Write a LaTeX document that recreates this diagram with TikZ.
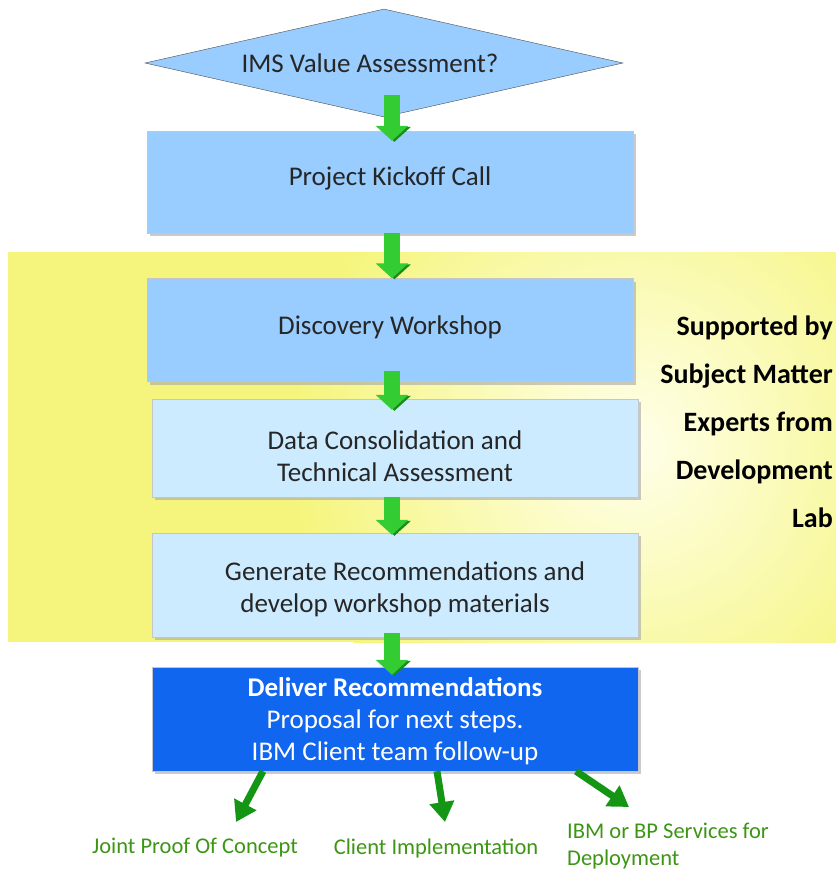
\documentclass[tikz,border=0pt]{standalone}
\usepackage{fontspec}
\setmainfont{Carlito}
\usepackage{xcolor}
\usetikzlibrary{positioning, arrows.meta, calc, shapes.geometric, shadows}

\definecolor{diamondblue}{RGB}{153,204,255}
\definecolor{paleblue}{RGB}{204,235,255}
\definecolor{deepblue}{RGB}{17,102,240}
\definecolor{arrgreen}{RGB}{51,204,51}
\definecolor{arrdark}{RGB}{25,140,25}
\definecolor{outgreen}{RGB}{20,150,20}
\definecolor{labgreen}{RGB}{60,150,20}
\definecolor{bgyellow}{RGB}{245,245,125}
\definecolor{bgpale}{RGB}{255,255,235}

\newcommand{\movedtext}[2]{\raisebox{#1}[\height][\depth]{\begin{tabular}{@{}c@{}}#2\end{tabular}}}

\tikzset{
  box/.style={rectangle, draw=gray!45, fill=diamondblue, minimum width=486pt,
    minimum height=102pt, align=center, text=black!85,
    font={\fontsize{27}{32}\selectfont},
    drop shadow={shadow xshift=3pt, shadow yshift=-3pt, fill=gray!70, opacity=0.6}},
  blockarr/.style={draw=arrgreen, line width=16pt, -{Triangle[width=32pt,length=15pt]},
    preaction={draw=arrdark, transform canvas={shift={(2.5pt,-1pt)}}}},
  outarr/.style={draw=outgreen, line width=7pt, -{Triangle[width=24pt,length=20pt]}},
  outlabel/.style={text=labgreen, font={\fontsize{22.5}{27}\selectfont}, inner sep=0pt}
}

\begin{document}
\begin{tikzpicture}[x=1pt, y=-1pt]
\useasboundingbox (0,0) rectangle (836,871);

\fill[bgyellow] (8,252) rectangle (836,642);
\begin{scope}
\clip (8,252) rectangle (836,642);
\shade[inner color=bgpale, outer color=bgyellow] (630,445) circle (340pt);
\end{scope}

\node[diamond, draw=gray!60!black, fill=diamondblue, minimum width=478pt, minimum height=108pt,
  aspect=4.4, inner sep=0pt, text=black!85, font={\fontsize{27}{32}\selectfont}] (ims) at (384,63)
  {\hspace*{-28pt}IMS Value Assessment?};

\node[box] (kick) at (390,182) {\movedtext{3pt}{Project Kickoff Call}};
\node[box, minimum height=103pt] (disc) at (390,330) {\movedtext{2pt}{Discovery Workshop}};
\node[box, fill=paleblue, minimum height=98pt] (data) at (395,448)
  {\movedtext{-11pt}{Data Consolidation and\\Technical Assessment}};
\node[box, fill=paleblue, minimum height=104pt] (gen) at (395,585)
  {\movedtext{-5pt}{\hspace*{20pt}Generate Recommendations and\\develop workshop materials}};
\node[box, fill=deepblue, text=white, minimum height=104pt] (deliver) at (395,719)
  {\movedtext{-3pt}{\textbf{Deliver Recommendations}\\Proposal for next steps.\\IBM Client team follow-up}};

\node[anchor=north east, align=right, inner sep=0pt, font={\fontsize{28}{48}\selectfont\bfseries}] (sme) at (833,316)
  {Supported by\\Subject Matter\\Experts from\\Development\\Lab};

\coordinate (axis) at (392,0);
\draw[blockarr, shorten <=-22pt, shorten >=-10pt] (axis |- ims.south) -- (axis |- kick.north);
\draw[blockarr] (axis |- kick.south) -- (axis |- disc.north);
\draw[blockarr, shorten <=-11pt, shorten >=-11pt] (axis |- disc.south) -- (axis |- data.north);
\draw[blockarr, shorten >=-2pt] (axis |- data.south) -- (axis |- gen.north);
\draw[blockarr, shorten <=-4pt, shorten >=-8pt] (axis |- gen.south) -- (axis |- deliver.north);

\node[outlabel] (poc) at (195,848) {Joint Proof Of Concept};
\node[outlabel] (impl) at (436,848) {Client Implementation};
\node[outlabel, anchor=west, align=left] (deploy) at (567,846) {IBM or BP Services for\\Deployment};

\coordinate (pocend) at (236,822);
\coordinate (implend) at (445,822);
\coordinate (depend) at (629,807);
\draw[outarr] ([xshift=-132pt]deliver.south) -- (pocend);
\draw[outarr] ([xshift=42pt]deliver.south) -- (implend);
\draw[outarr] ([xshift=181pt]deliver.south) -- (depend);
\end{tikzpicture}
\end{document}
